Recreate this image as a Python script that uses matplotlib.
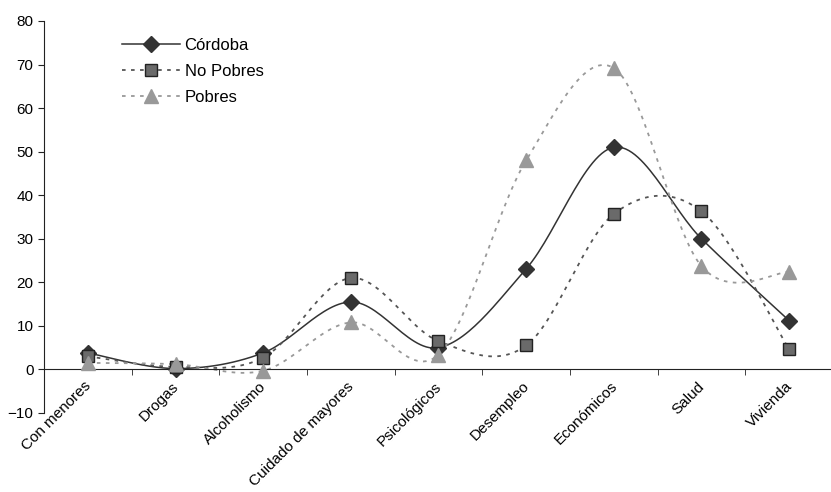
import numpy as np
import matplotlib
matplotlib.use("Agg")
import matplotlib.pyplot as plt
import matplotlib.transforms as mtransforms
from matplotlib.lines import Line2D

categories = ["Con menores", "Drogas", "Alcoholismo", "Cuidado de mayores",
              "Psicológicos", "Desempleo", "Económicos", "Salud", "Vivienda"]
cordoba = [3.8, 0.2, 3.8, 15.5, 5.0, 23.1, 51.0, 30.0, 11.2]
no_pobres = [3.0, 0.6, 2.7, 21.0, 6.5, 5.5, 35.7, 36.3, 4.6]
pobres = [1.5, 1.2, -0.3, 10.8, 3.4, 48.0, 69.2, 23.7, 22.4]


def smooth(x, y, n=30):
    # Excel-style smoothed line: cubic Bezier with control points at P1 + (P2 - P0) / 6
    x = np.asarray(x, float)
    y = np.asarray(y, float)
    px = np.concatenate([[x[0]], x, [x[-1]]])
    py = np.concatenate([[y[0]], y, [y[-1]]])
    t = np.linspace(0, 1, n)[:, None]
    xs, ys = [], []
    for i in range(1, len(x)):
        p0 = np.array([px[i], py[i]])
        p3 = np.array([px[i + 1], py[i + 1]])
        c1 = p0 + (np.array([px[i + 1], py[i + 1]]) - np.array([px[i - 1], py[i - 1]])) / 6
        c2 = p3 - (np.array([px[i + 2], py[i + 2]]) - np.array([px[i], py[i]])) / 6
        b = ((1 - t) ** 3) * p0 + 3 * ((1 - t) ** 2) * t * c1 + 3 * (1 - t) * t ** 2 * c2 + t ** 3 * p3
        xs.append(b[:, 0])
        ys.append(b[:, 1])
    return np.concatenate(xs), np.concatenate(ys)


plt.rcParams["font.family"] = ["Liberation Sans", "DejaVu Sans"]

fig = plt.figure(figsize=(8.31, 4.92), dpi=100)
ax = fig.add_axes([44 / 831, 1 - 413 / 492, 789 / 831, 392 / 492])

xpos = np.arange(1, len(categories) + 1)

series = [
    ("Córdoba", cordoba, dict(color="#333333", ls="-", lw=1.1),
     dict(marker="D", ms=8.5, mfc="#333333", mec="#333333")),
    ("No Pobres", no_pobres, dict(color="#555555", ls=(0, (2, 3)), lw=1.3),
     dict(marker="s", ms=8.5, mfc="#6a6a6a", mec="#222222", mew=1.0)),
    ("Pobres", pobres, dict(color="#999999", ls=(0, (2, 3)), lw=1.3),
     dict(marker="^", ms=10.5, mfc="#999999", mec="#999999")),
]

handles = []
for name, vals, lstyle, mstyle in series:
    sx, sy = smooth(xpos, vals)
    ax.plot(sx, sy, zorder=2, **lstyle)
    ax.plot(xpos, vals, ls="none", zorder=3, **mstyle)
    handles.append(Line2D([], [], **lstyle, **mstyle))

ax.set_xlim(0.5, len(categories) + 0.5)
ax.set_ylim(-10, 80)
ax.set_yticks(np.arange(-10, 81, 10))

ax.spines["top"].set_visible(False)
ax.spines["right"].set_visible(False)
ax.spines["bottom"].set_position(("data", 0))
ax.spines["left"].set_color("#222222")
ax.spines["bottom"].set_color("#222222")

ax.set_xticks(xpos)
ax.set_xticklabels(categories, rotation=45, ha="right", va="top",
                   rotation_mode="anchor", fontsize=11)
ax.tick_params(axis="x", which="major", length=0, pad=7)
shift = mtransforms.ScaledTranslation(-4 / 100, 0, fig.dpi_scale_trans)
for lab in ax.get_xticklabels():
    lab.set_transform(lab.get_transform() + shift)
ax.set_xticks(np.arange(1.5, len(categories), 1), minor=True)
ax.tick_params(axis="x", which="minor", length=4, direction="out", color="#222222")
ax.tick_params(axis="y", length=4, direction="out", labelsize=11, color="#222222")

ax.legend(handles, [s[0] for s in series], loc="upper left",
          bbox_to_anchor=(0.08, 0.995), frameon=False, fontsize=12,
          handlelength=3.5, labelspacing=0.65, handletextpad=0.25)

fig.savefig("out.png", dpi=100)
